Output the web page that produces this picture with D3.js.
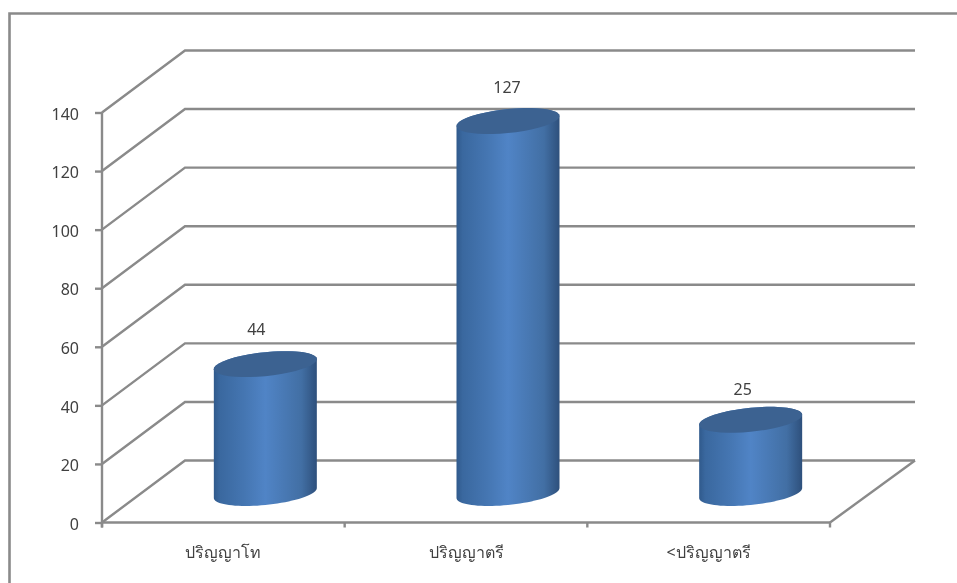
<!DOCTYPE html>
<html>
<head>
<meta charset="utf-8">
<script src="https://cdn.jsdelivr.net/npm/d3@7"></script>
<style>
  body { margin: 0; background: #fff; }
  svg { display: block; filter: blur(0.4px); }
  text { font-family: "Noto Sans", "Open Sans", sans-serif; fill: #404040; font-size: 16px; }
</style>
</head>
<body>
<svg width="957" height="583"></svg>
<script>
var categories = ["ปริญญาโท", "ปริญญาตรี", "<ปริญญาตรี"];
var values = [44, 127, 25];
var yTicks = [0, 20, 40, 60, 80, 100, 120, 140];
var labelNudgeX = [-9, -1, -8];
var labelNudgeY = [-1, 0, 3];

var svg = d3.select("svg");
var grey = "#8a8a8a";
var lineW = 2.4;

// front plane of the 3d box, the back wall is the same thing shifted by depth
var left = 102, right = 830, top_ = 112.5, bottom = 522.5;
var depthX = 83, depthY = -62, depthXRight = 85;

var x = d3.scaleBand().domain(categories).range([left, right]);
var y = d3.scaleLinear().domain([0, 140]).range([bottom, top_]);

// outer frame
svg.append("path")
    .attr("d", "M9.5,583V13.5H957")
    .attr("fill", "none")
    .attr("stroke", grey)
    .attr("stroke-width", 2.6);

// gridlines
var grid = svg.append("g");
yTicks.forEach(function(t) {
    grid.append("path")
        .attr("d", d3.line()([
            [left, y(t)],
            [left + depthX, y(t) + depthY],
            [right + depthXRight, y(t) + depthY]
        ]))
        .attr("fill", "none")
        .attr("stroke", grey)
        .attr("stroke-width", lineW);
});
// right edge of the floor
grid.append("path")
    .attr("d", d3.line()([[right, bottom], [right + depthXRight, bottom + depthY]]))
    .attr("stroke", grey)
    .attr("stroke-width", lineW);

var yAxis = d3.axisLeft(y).tickValues(yTicks).tickSize(7).tickPadding(16);
var xAxis = d3.axisBottom(x).tickSize(0).tickPadding(24);

var gy = svg.append("g").attr("transform", "translate(" + left + ",0)").call(yAxis);
var gx = svg.append("g").attr("transform", "translate(0," + bottom + ")").call(xAxis);
gy.selectAll("line,path").attr("stroke", grey).attr("stroke-width", lineW);
gx.selectAll("path").attr("stroke", grey).attr("stroke-width", lineW);
gy.select(".domain").attr("d", "M0," + top_ + "V" + (bottom + 5));
gx.select(".domain").attr("d", "M" + left + ",0H" + right);
gx.selectAll(".tick line").remove();
// category boundaries get the tick marks, not the centres
var bounds = [0, 1, 2, 3].map(function(i) { return left + i * x.bandwidth(); });
gx.selectAll(".bound").data(bounds).enter().append("line")
    .attr("x1", function(d) { return d; })
    .attr("x2", function(d) { return d; })
    .attr("y1", 0).attr("y2", 5)
    .attr("stroke", grey).attr("stroke-width", lineW);
gy.selectAll("text").attr("dy", "0.42em").attr("fill", null);
gx.selectAll("text").attr("fill", null);
gy.attr("font-family", null).attr("font-size", null);
gx.attr("font-family", null).attr("font-size", null);

// cylinder gradients
var defs = svg.append("defs");
var grad = defs.append("linearGradient").attr("id", "body");
[[0, "#305a8c"], [0.06, "#3a689f"], [0.3, "#4576b2"], [0.5, "#5084c6"], [0.85, "#426fa4"], [1, "#2e507c"]].forEach(function(s) {
    grad.append("stop").attr("offset", s[0]).attr("stop-color", s[1]);
});

var rx = 51.5, ry = 12, tilt = 5;
var barOffsetX = depthX / 2 + 0.5, barOffsetY = depthY / 2 + 1.5;

function ellipsePts(cx, cy, from, to) {
    return d3.range(0, 41).map(function(i) {
        var t = from + (to - from) * i / 40;
        return [cx + rx * Math.cos(t), cy - tilt * Math.cos(t) + ry * Math.sin(t)];
    });
}

function barX(i) {
    return x(categories[i]) + x.bandwidth() / 2 + barOffsetX;
}

var bars = svg.append("g").selectAll("g").data(values).enter().append("g");

bars.append("path")
    .attr("fill", "url(#body)")
    .attr("d", function(d, i) {
        var top = y(d) + barOffsetY, base = y(0) + barOffsetY;
        return d3.line()(ellipsePts(barX(i), top, Math.PI, 2 * Math.PI).concat(ellipsePts(barX(i), base, 0, Math.PI))) + "Z";
    });

bars.append("path")
    .attr("fill", "#3c6291")
    .attr("d", function(d, i) {
        return d3.line()(ellipsePts(barX(i), y(d) + barOffsetY, 0, 2 * Math.PI)) + "Z";
    });

bars.append("text")
    .attr("text-anchor", "middle")
    .attr("x", function(d, i) { return barX(i) + labelNudgeX[i]; })
    .attr("y", function(d, i) { return y(d) + barOffsetY - 28 + labelNudgeY[i]; })
    .text(function(d) { return d; });
</script>
</body>
</html>
